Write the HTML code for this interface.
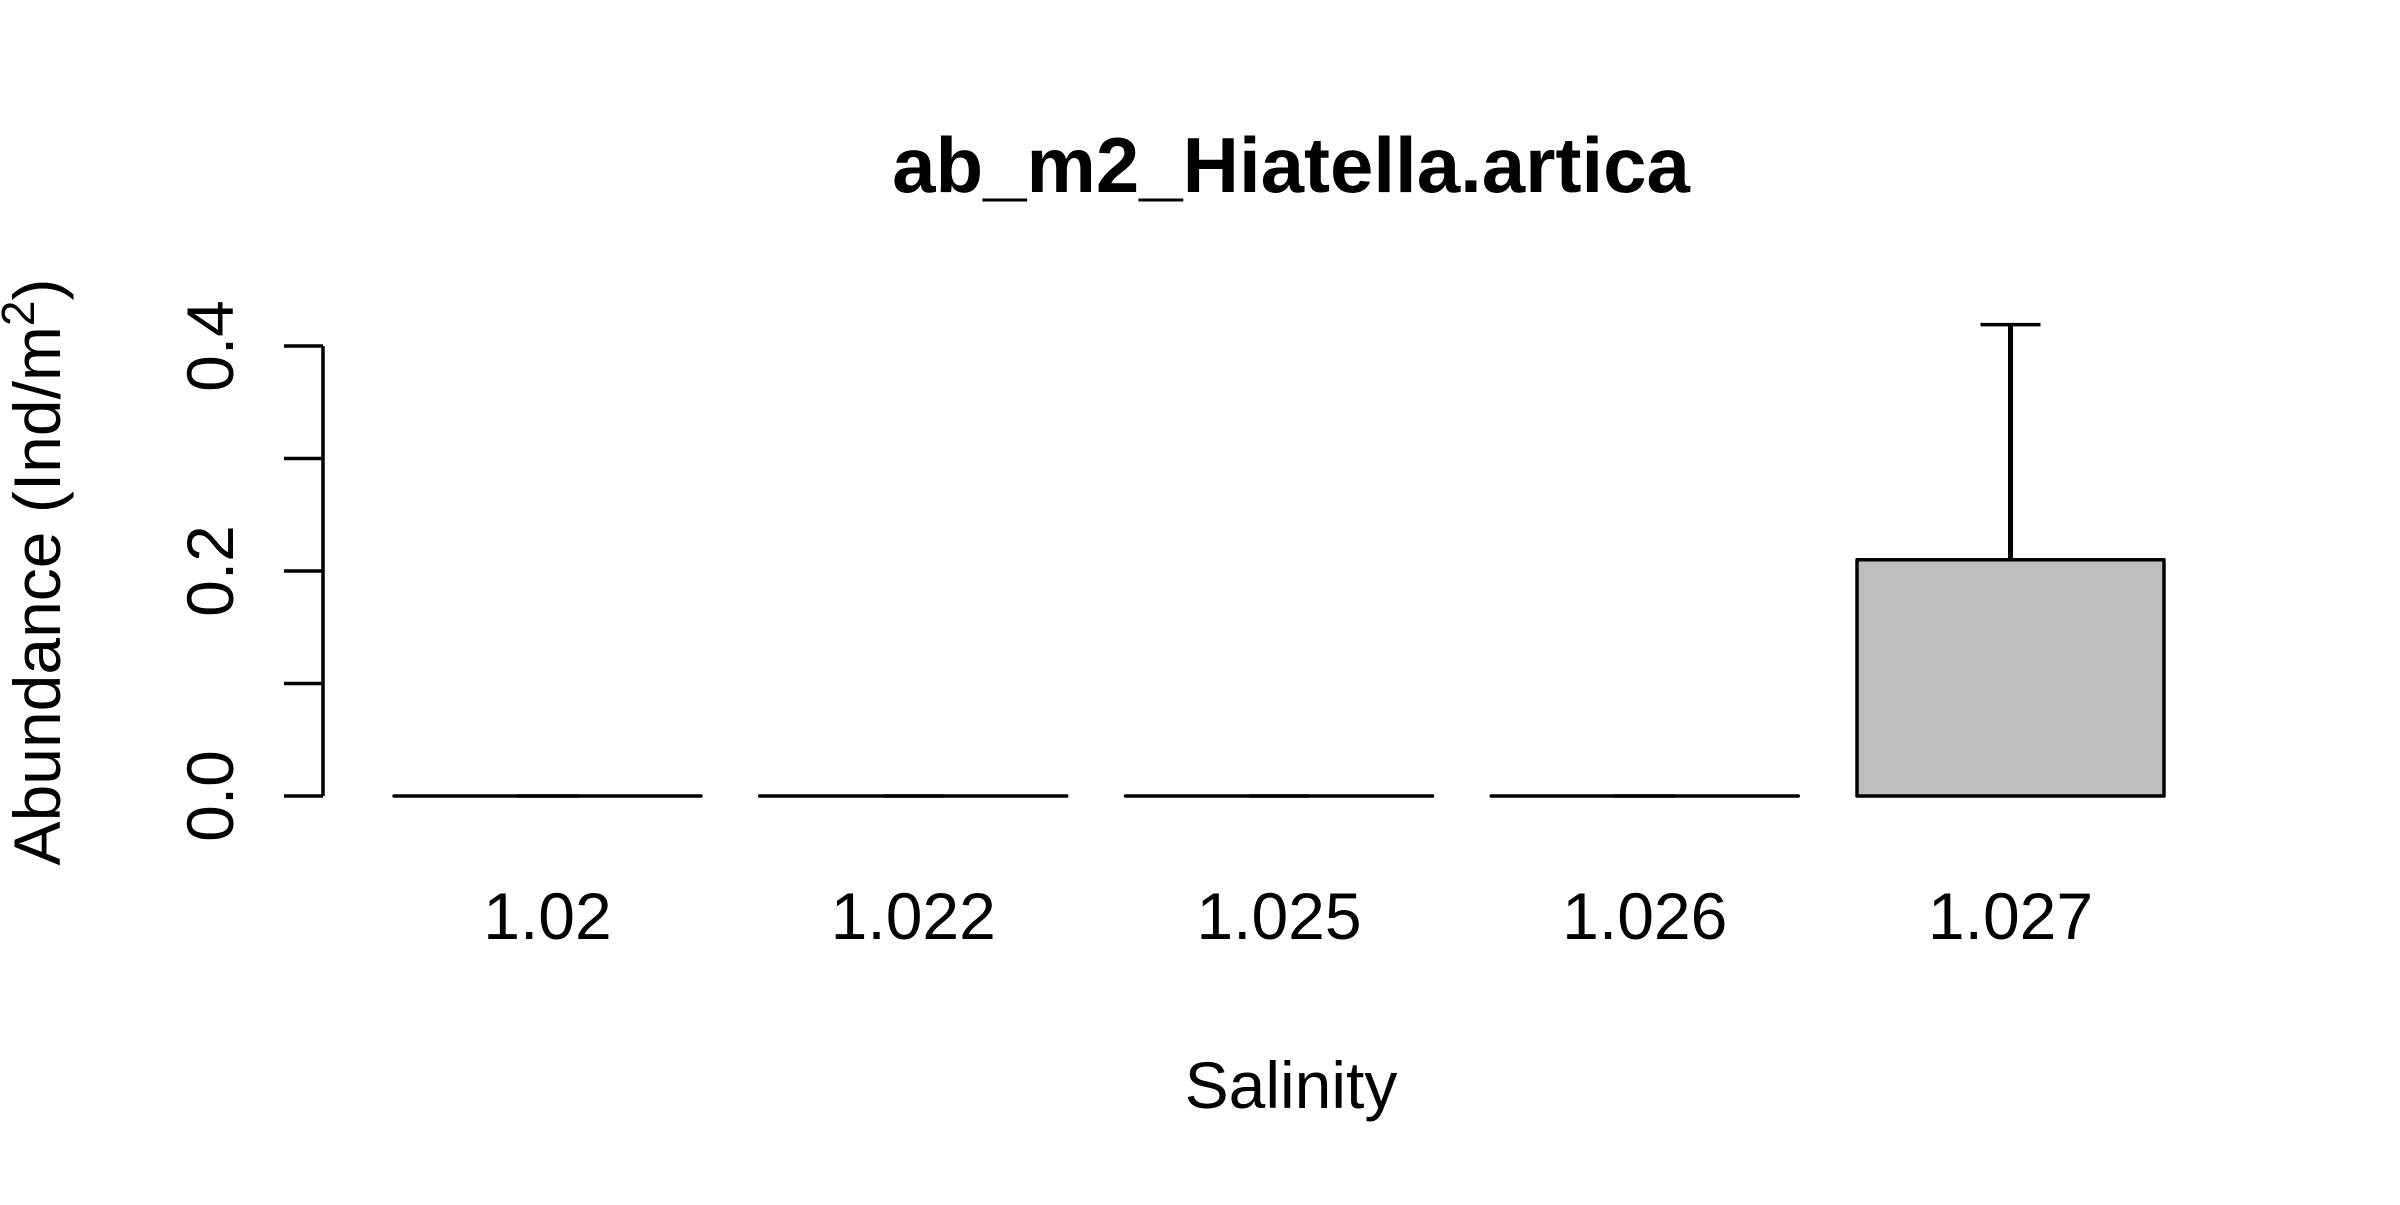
<!DOCTYPE html>
<html><head><meta charset="utf-8"><style>
html,body{margin:0;padding:0;background:#fff}
svg text{font-family:"Liberation Sans",Arial,sans-serif;fill:#000}
</style></head><body>
<svg id="chart" width="2400" height="1200" viewBox="0 0 2400 1200" xmlns="http://www.w3.org/2000/svg">
<rect width="2400" height="1200" fill="#fff"/>
<text x="1291" y="192" font-size="78" font-weight="bold" text-anchor="middle">ab_m2_Hiatella.artica</text>
<text x="1291" y="1108" font-size="66" text-anchor="middle">Salinity</text>
<text transform="translate(60,572) rotate(-90)" font-size="66" text-anchor="middle">Abundance (Ind/m<tspan font-size="46" dy="-26">2</tspan><tspan dy="26">)</tspan></text>
<g id="plot"></g>
</svg>
<script>
const categories = ["1.02","1.022","1.025","1.026","1.027"];
const values = [0, 0, 0, 0, 0.21];
const errors = [0, 0, 0, 0, 0.209];
const yTicks = [0, 0.1, 0.2, 0.3, 0.4];
const yTickLabels = ["0.0", "", "0.2", "", "0.4"];

const NS = "http://www.w3.org/2000/svg";
const g = document.getElementById('plot');
const y0 = 796, pxPerUnit = 1125;
function yScale(v){ return y0 - v * pxPerUnit; }
const barStart = 394, barStep = 365.75, barW = 307;
function xLeft(i){ return barStart + i * barStep; }
function mk(tag, attrs){ const e = document.createElementNS(NS, tag); for (const k in attrs) e.setAttribute(k, attrs[k]); g.appendChild(e); return e; }

const axisX = 323;
let ax = mk('line', {x1: axisX, x2: axisX, y1: yScale(yTicks[0]), y2: yScale(yTicks[yTicks.length-1]), stroke: '#000', 'stroke-width': 3.5});


yTicks.forEach((t, i) => {
  const y = yScale(t);
  const tk = mk('line', {x1: axisX - 39, x2: axisX, y1: y, y2: y, stroke: '#000', 'stroke-width': 3.5});
  
  
  if (yTickLabels[i]) {
    const tx = mk('text', {transform: `translate(233,${y}) rotate(-90)`, 'font-size': 66, 'text-anchor': 'middle'});
    tx.textContent = yTickLabels[i];
    
    
  }
});

categories.forEach((c, i) => {
  const x = xLeft(i), top = yScale(values[i]);
  const r = mk('path', {d: `M${x},${y0} L${x},${top} L${x+barW},${top} L${x+barW},${y0} Z`, fill: '#bebebe', stroke: '#000', 'stroke-width': 3.5, 'stroke-linejoin': 'round'});
  
  
  const cx = x + barW / 2, et = yScale(values[i] + errors[i]);
  const el = mk('line', {x1: cx, x2: cx, y1: top, y2: et, stroke: '#000', 'stroke-width': 5});
  
  
  const cap = mk('line', {x1: cx - 30, x2: cx + 30, y1: et, y2: et, stroke: '#000', 'stroke-width': 3.5});
  
  
  const lb = mk('text', {x: cx, y: 939, 'font-size': 66, 'text-anchor': 'middle'});
  lb.textContent = c;
  
  
});
</script>
</body></html>
